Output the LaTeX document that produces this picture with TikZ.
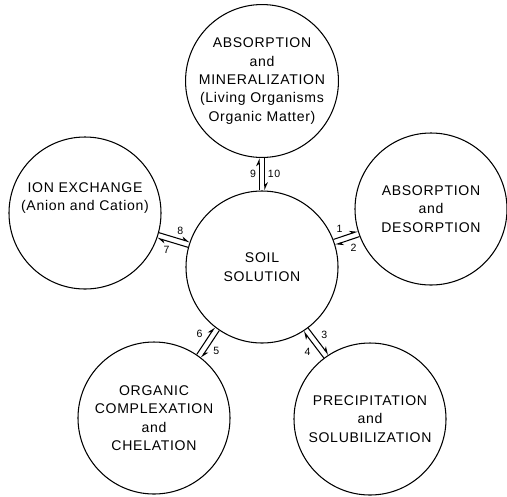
\documentclass[tikz,border=0pt]{standalone}
\usepackage{fontspec}
\setmainfont{Liberation Sans}[LetterSpace=5]
\usetikzlibrary{positioning, arrows.meta}

\begin{document}
\begin{tikzpicture}[
      line width=0.6pt,
      pool/.style={draw, circle, minimum size=3.04cm, inner sep=0pt, align=center, font=\fontsize{8}{10.5}\selectfont},
      harp/.style={-{Stealth[harpoon, length=4pt, width=3.5pt]}},
      num/.style={auto, inner sep=1.5pt, font=\fontsize{6}{7}\selectfont}
    ]
    \useasboundingbox (-5.24,-4.58) rectangle (4.90,5.34);
    \node[pool] (soil) at (0,0) {SOIL\\SOLUTION};
    \node[pool] (mineral) at (0,3.72) {ABSORPTION\\and\\MINERALIZATION\\(Living Organisms\\Organic Matter)};
    \node[pool] (adsorb) at (3.38,1.16) {ABSORPTION\\and\\DESORPTION};
    \node[pool] (ion) at (-3.54,1.08) {ION EXCHANGE\\(Anion and Cation)\\[2ex]};
    \node[pool] (organic) at (-2.16,-3.02) {ORGANIC\\COMPLEXATION\\and\\CHELATION};
    \node[pool] (precip) at (2.16,-3.04) {PRECIPITATION\\and\\SOLUBILIZATION};

    \foreach \n/\a/\o/\i in {mineral/90/9/10, adsorb/19/1/2, ion/163/7/8, organic/234/5/6, precip/305/3/4} {
      \pgfmathtruncatemacro{\b}{mod(\a+180,360)}
      \draw[harp] ([shift={(\a+90:1.6pt)}]soil.\a) -- ([shift={(\a+90:1.6pt)}]\n.\b) node[num, midway] {\o};
      \draw[harp] ([shift={(\a-90:1.6pt)}]\n.\b) -- ([shift={(\a-90:1.6pt)}]soil.\a) node[num, midway] {\i};
    }
  \end{tikzpicture}
\end{document}
